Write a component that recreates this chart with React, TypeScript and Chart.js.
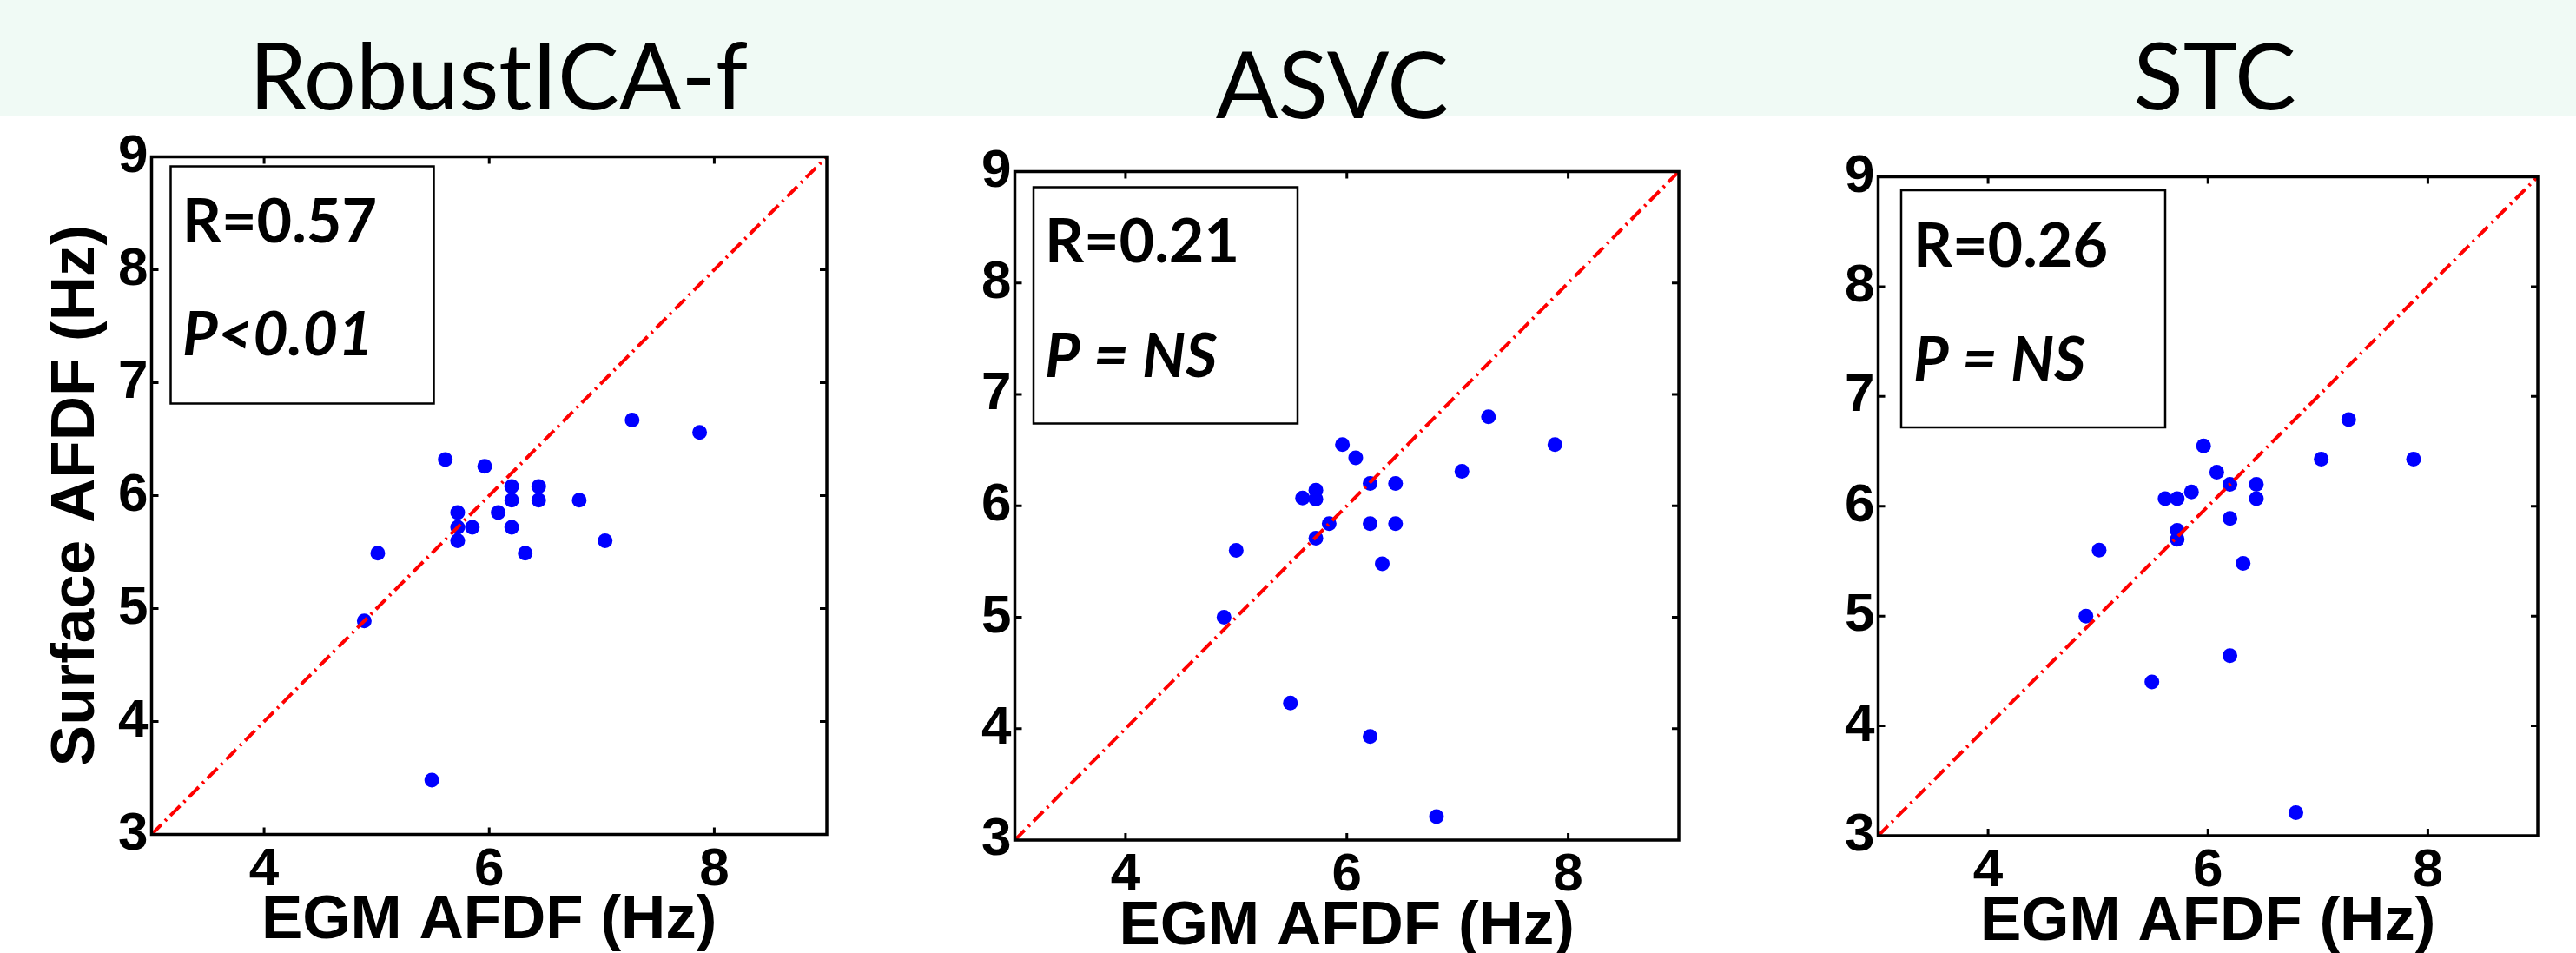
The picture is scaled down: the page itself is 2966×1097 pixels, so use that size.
import React, { useEffect, useRef } from "react";
import { Chart, registerables } from "chart.js";

Chart.register(...registerables);

// ---------------- data ----------------
const panelTitles = ["RobustICA-f", "ASVC", "STC"];
const corrLabels = ["R=0.57", "R=0.21", "R=0.26"];
const pLabels = ["P<0.01", "P = NS", "P = NS"];
const xAxisTitle = "EGM AFDF (Hz)";
const yAxisTitle = "Surface AFDF (Hz)";
const axisMin = 3;
const axisMax = 9;
const xTickValues = [4, 6, 8];
const yTickValues = [3, 4, 5, 6, 7, 8, 9];
const identityLine = [3, 9];

const robustEgm = [7.27, 7.87, 5.61, 5.96, 6.2, 6.44, 6.2, 6.44, 6.8, 5.72, 6.08, 5.72, 5.85, 6.2, 5.72, 7.03, 5.01, 6.32, 4.89, 5.49];
const robustSurface = [6.67, 6.56, 6.32, 6.26, 6.08, 6.08, 5.96, 5.96, 5.96, 5.85, 5.85, 5.72, 5.72, 5.72, 5.6, 5.6, 5.49, 5.49, 4.89, 3.48];

const asvcEgm = [7.28, 7.88, 5.96, 6.08, 7.04, 6.21, 6.44, 5.72, 5.6, 5.72, 5.84, 6.21, 6.44, 5.72, 5.0, 6.32, 4.89, 5.49, 6.21, 6.81];
const asvcSurface = [6.8, 6.55, 6.55, 6.43, 6.31, 6.2, 6.2, 6.14, 6.07, 6.06, 5.84, 5.84, 5.84, 5.71, 5.6, 5.48, 5.0, 4.23, 3.93, 3.21];

const stcEgm = [7.28, 7.87, 7.03, 5.96, 6.08, 6.2, 6.44, 5.85, 5.61, 5.72, 6.44, 6.2, 5.72, 5.72, 5.01, 6.32, 4.89, 6.2, 5.49, 6.8];
const stcSurface = [6.79, 6.43, 6.43, 6.55, 6.31, 6.2, 6.2, 6.13, 6.07, 6.07, 6.07, 5.89, 5.78, 5.7, 5.6, 5.48, 5.0, 4.64, 4.4, 3.21];

const panelX = [robustEgm, asvcEgm, stcEgm];
const panelY = [robustSurface, asvcSurface, stcSurface];

// ---------------- layout / style ----------------
const PAGE_W = 2966;
const PAGE_H = 1097;
const CANVAS_H = 1150;
const Y_AXIS_W = 150;
const BAND_H = 134;
const BAND_COLOR = "rgb(240,250,245)";

const TICK_FONT = { family: "'Liberation Sans', Arial, sans-serif", weight: "bold" as const, size: 62 };
const AXIS_TITLE_FONT = { family: "'Liberation Sans', Arial, sans-serif", weight: "bold" as const, size: 71 };

const panelLayouts = [
  { left: 174.5, top: 180.5, right: 952, bottom: 960.5, titleX: 574, titleY: 126, box: { dx: 22, dy: 11, w: 303, h: 273 }, textDx: 35.5, rDy: 98, pDy: 228, showYTitle: true },
  { left: 1168.5, top: 197.5, right: 1933, bottom: 967, titleX: 1534, titleY: 136, box: { dx: 21.5, dy: 18, w: 304, h: 272 }, textDx: 34.5, rDy: 104.5, pDy: 236.5, showYTitle: false },
  { left: 2162.5, top: 203.5, right: 2922, bottom: 962, titleX: 2550, titleY: 126, box: { dx: 26.5, dy: 15.5, w: 304, h: 273 }, textDx: 40.5, rDy: 103, pDy: 234, showYTitle: false },
];

function makeFramePlugin(idx: number) {
  const lay = panelLayouts[idx];
  return {
    id: "frame" + idx,
    afterDraw(chart: any) {
      const ctx = chart.ctx;
      const a = chart.chartArea;
      const xs = chart.scales.x;
      const ys = chart.scales.y;
      ctx.save();
      ctx.strokeStyle = "#000";
      ctx.lineWidth = 3.5;
      ctx.strokeRect(a.left, a.top, a.right - a.left, a.bottom - a.top);
      ctx.lineWidth = 3;
      const tl = 8;
      ctx.beginPath();
      xs.ticks.forEach((t: any) => {
        const px = xs.getPixelForValue(t.value);
        ctx.moveTo(px, a.bottom);
        ctx.lineTo(px, a.bottom - tl);
        ctx.moveTo(px, a.top);
        ctx.lineTo(px, a.top + tl);
      });
      ys.ticks.forEach((t: any) => {
        if (t.value <= axisMin || t.value >= axisMax) return;
        const py = ys.getPixelForValue(t.value);
        ctx.moveTo(a.left, py);
        ctx.lineTo(a.left + tl, py);
        ctx.moveTo(a.right, py);
        ctx.lineTo(a.right - tl, py);
      });
      ctx.stroke();
      ctx.lineWidth = 2.5;
      ctx.strokeRect(a.left + lay.box.dx, a.top + lay.box.dy, lay.box.w, lay.box.h);
      ctx.fillStyle = "#000";
      ctx.textAlign = "left";
      ctx.textBaseline = "alphabetic";
      ctx.font = "bold 70px Lato, 'Open Sans', sans-serif";
      ctx.fillText(corrLabels[idx], a.left + lay.textDx, a.top + lay.rDy);
      ctx.font = "italic bold 70px Lato, 'Open Sans', sans-serif";
      ctx.fillText(pLabels[idx], a.left + lay.textDx, a.top + lay.pDy);
      ctx.font = "106px Lato, 'Open Sans', sans-serif";
      ctx.textAlign = "center";
      ctx.fillText(panelTitles[idx], lay.titleX, lay.titleY);
      ctx.restore();
    },
  };
}

function Panel({ idx }: { idx: number }) {
  const ref = useRef<HTMLCanvasElement | null>(null);
  useEffect(() => {
    const canvas = ref.current;
    if (!canvas) return;
    const lay = panelLayouts[idx];
    const xs = panelX[idx];
    const ysv = panelY[idx];
    const titleMid = lay.bottom + 100;
    const chart = new Chart(canvas, {
      type: "scatter",
      data: {
        datasets: [
          {
            type: "line",
            data: identityLine.map((v) => ({ x: v, y: v })),
            borderColor: "#ff0000",
            borderWidth: 4,
            borderDash: [16, 6, 2.5, 6],
            pointRadius: 0,
            fill: false,
            tension: 0,
          } as any,
          {
            data: xs.map((x, i) => ({ x, y: ysv[i] })),
            backgroundColor: "#0000ff",
            borderWidth: 0,
            pointRadius: 8.5,
            pointHoverRadius: 8.5,
          },
        ],
      },
      options: {
        animation: false,
        responsive: false,
        events: [],
        layout: {
          padding: { left: lay.left - Y_AXIS_W, right: PAGE_W - lay.right, top: lay.top, bottom: 0 },
        },
        plugins: {
          legend: { display: false },
          tooltip: { enabled: false },
          title: { display: false },
        },
        scales: {
          x: {
            type: "linear",
            position: "bottom",
            min: axisMin,
            max: axisMax,
            grid: { display: false, drawTicks: false },
            border: { display: false },
            afterBuildTicks: (s: any) => {
              s.ticks = xTickValues.map((v) => ({ value: v }));
            },
            ticks: {
              color: "#000",
              font: TICK_FONT,
              padding: 4,
              maxRotation: 0,
              autoSkip: false,
            },
            title: {
              display: true,
              text: xAxisTitle,
              color: "#000",
              font: AXIS_TITLE_FONT,
              padding: { top: 0, bottom: CANVAS_H - AXIS_TITLE_FONT.size * 0.6 - titleMid },
            },
            afterFit: (s: any) => {
              s.height = CANVAS_H - lay.bottom;
            },
          },
          y: {
            type: "linear",
            position: "left",
            min: axisMin,
            max: axisMax,
            grid: { display: false, drawTicks: false },
            border: { display: false },
            afterBuildTicks: (s: any) => {
              s.ticks = yTickValues.map((v) => ({ value: v }));
            },
            ticks: {
              color: "#000",
              font: TICK_FONT,
              padding: 4,
              autoSkip: false,
            },
            title: {
              display: lay.showYTitle,
              text: yAxisTitle,
              color: "#000",
              font: AXIS_TITLE_FONT,
              padding: { top: 88.5 - (lay.left - Y_AXIS_W) - AXIS_TITLE_FONT.size * 0.6, bottom: 0 },
            },
            afterFit: (s: any) => {
              s.width = Y_AXIS_W;
            },
          },
        },
      } as any,
      plugins: [makeFramePlugin(idx)],
    });
    return () => chart.destroy();
  }, [idx]);
  return (
    <canvas
      ref={ref}
      width={PAGE_W}
      height={CANVAS_H}
      style={{ position: "absolute", left: 0, top: 0, width: PAGE_W, height: CANVAS_H }}
    />
  );
}

export default function App() {
  return (
    <div
      style={{
        position: "fixed",
        left: 0,
        top: 0,
        width: PAGE_W,
        height: PAGE_H,
        overflow: "hidden",
        background: "#ffffff",
      }}
    >
      <div style={{ position: "absolute", left: 0, top: 0, width: PAGE_W, height: BAND_H, background: BAND_COLOR }} />
      {panelTitles.map((_, i) => (
        <Panel key={i} idx={i} />
      ))}
    </div>
  );
}
